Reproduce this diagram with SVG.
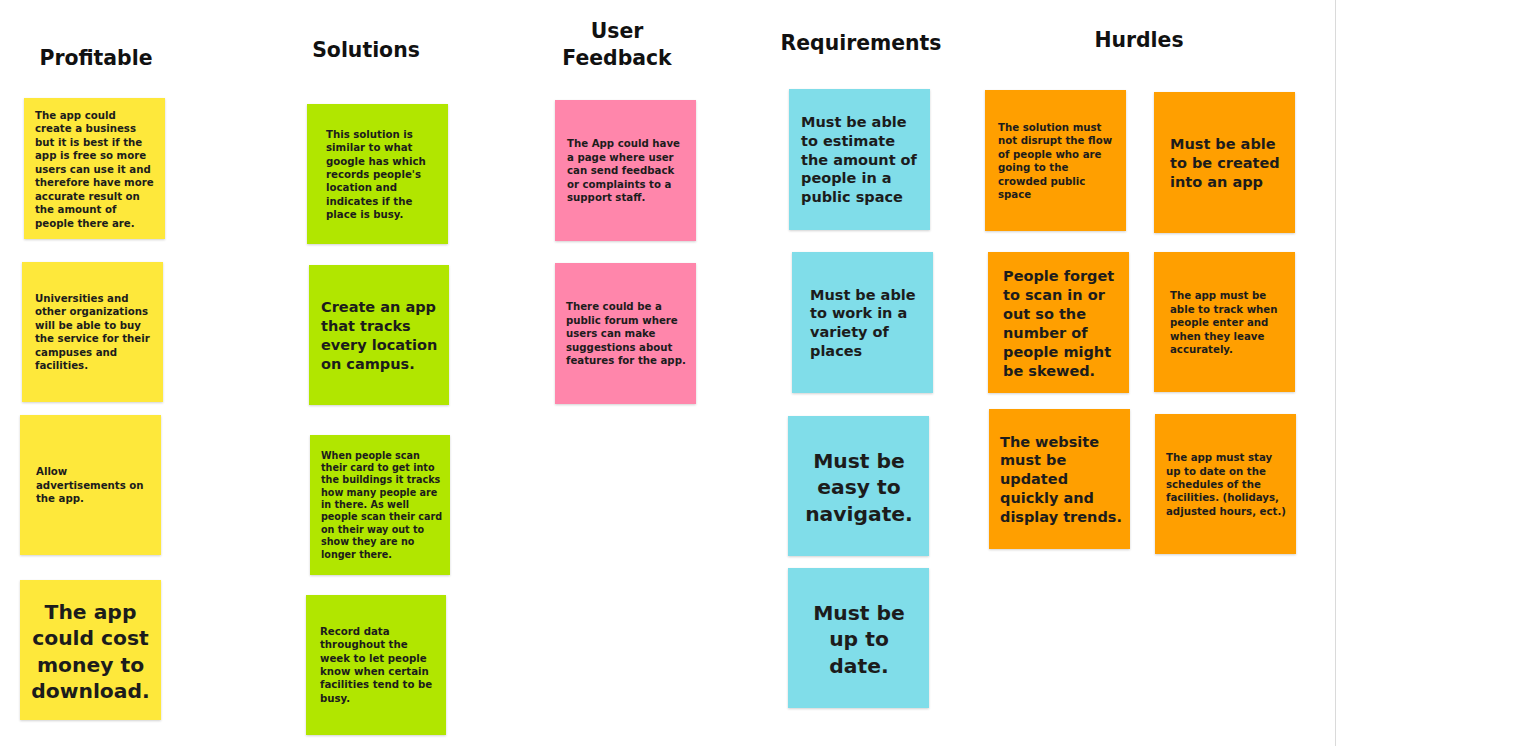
<svg xmlns="http://www.w3.org/2000/svg" width="1538" height="746" viewBox="0 0 1538 746">
<defs>
<filter id="sh" x="-5%" y="-5%" width="110%" height="115%">
<feDropShadow dx="0" dy="1" stdDeviation="1" flood-color="#000" flood-opacity="0.18"/>
</filter>
</defs>
<style>
.hd{font-family:"DejaVu Sans","Liberation Sans",sans-serif;font-weight:700;font-size:20.4px;fill:#111;text-anchor:middle}
.t{font-family:"DejaVu Sans","Liberation Sans",sans-serif;font-weight:700;fill:#1c1c1c}
.s{font-size:10.2px}
.xs{font-size:9.6px}
.m{font-size:14.5px}
.l{font-size:20.3px;text-anchor:middle}
.note{filter:url(#sh)}
.y{fill:#fee83b}
.g{fill:#b1e600}
.p{fill:#ff86ab}
.c{fill:#80dde9}
.o{fill:#ff9f05}
</style>
<rect x="0" y="0" width="1538" height="746" fill="#ffffff"/>
<line x1="1335.5" y1="0" x2="1335.5" y2="746" stroke="#dadada" stroke-width="1"/>

<g id="headers">
<text class="hd" x="96" y="65">Profitable</text>
<text class="hd" x="366" y="57">Solutions</text>
<text class="hd" x="617" y="38">User</text>
<text class="hd" x="617" y="65">Feedback</text>
<text class="hd" x="861" y="50">Requirements</text>
<text class="hd" x="1139" y="47">Hurdles</text>
</g>

<g id="connectors"></g>

<g id="p1"><rect class="note y" x="24" y="98" width="141" height="141"/>
<text class="t s" x="35" y="119"><tspan x="35">The app could</tspan><tspan x="35" dy="13.45">create a business</tspan><tspan x="35" dy="13.45">but it is best if the</tspan><tspan x="35" dy="13.45">app is free so more</tspan><tspan x="35" dy="13.45">users can use it and</tspan><tspan x="35" dy="13.45">therefore have more</tspan><tspan x="35" dy="13.45">accurate result on</tspan><tspan x="35" dy="13.45">the amount of</tspan><tspan x="35" dy="13.45">people there are.</tspan></text></g>

<g id="p2"><rect class="note y" x="22" y="262" width="141" height="140"/>
<text class="t s" x="35" y="301.7"><tspan x="35">Universities and</tspan><tspan x="35" dy="13.45">other organizations</tspan><tspan x="35" dy="13.45">will be able to buy</tspan><tspan x="35" dy="13.45">the service for their</tspan><tspan x="35" dy="13.45">campuses and</tspan><tspan x="35" dy="13.45">facilities.</tspan></text></g>

<g id="p3"><rect class="note y" x="20" y="415" width="141" height="140"/>
<text class="t s" x="36" y="475"><tspan x="36">Allow</tspan><tspan x="36" dy="13.5">advertisements on</tspan><tspan x="36" dy="13.5">the app.</tspan></text></g>

<g id="p4"><rect class="note y" x="20" y="580" width="141" height="140"/>
<text class="t l" x="90.5" y="618.5"><tspan x="90.5">The app</tspan><tspan x="90.5" dy="26.5">could cost</tspan><tspan x="90.5" dy="26.5">money to</tspan><tspan x="90.5" dy="26.5">download.</tspan></text></g>

<g id="s1"><rect class="note g" x="307" y="104" width="141" height="140"/>
<text class="t s" x="326" y="137.7"><tspan x="326">This solution is</tspan><tspan x="326" dy="13.4">similar to what</tspan><tspan x="326" dy="13.4">google has which</tspan><tspan x="326" dy="13.4">records people's</tspan><tspan x="326" dy="13.4">location and</tspan><tspan x="326" dy="13.4">indicates if the</tspan><tspan x="326" dy="13.4">place is busy.</tspan></text></g>

<g id="s2"><rect class="note g" x="309" y="265" width="140" height="140"/>
<text class="t m" x="321" y="312.2"><tspan x="321">Create an app</tspan><tspan x="321" dy="19">that tracks</tspan><tspan x="321" dy="19">every location</tspan><tspan x="321" dy="19">on campus.</tspan></text></g>

<g id="s3"><rect class="note g" x="310" y="435" width="140" height="140"/>
<text class="t xs" x="321" y="458.7"><tspan x="321">When people scan</tspan><tspan x="321" dy="12.35">their card to get into</tspan><tspan x="321" dy="12.35">the buildings it tracks</tspan><tspan x="321" dy="12.35">how many people are</tspan><tspan x="321" dy="12.35">in there. As well</tspan><tspan x="321" dy="12.35">people scan their card</tspan><tspan x="321" dy="12.35">on their way out to</tspan><tspan x="321" dy="12.35">show they are no</tspan><tspan x="321" dy="12.35">longer there.</tspan></text></g>

<g id="s4"><rect class="note g" x="306" y="595" width="140" height="140"/>
<text class="t s" x="320" y="635"><tspan x="320">Record data</tspan><tspan x="320" dy="13.35">throughout the</tspan><tspan x="320" dy="13.35">week to let people</tspan><tspan x="320" dy="13.35">know when certain</tspan><tspan x="320" dy="13.35">facilities tend to be</tspan><tspan x="320" dy="13.35">busy.</tspan></text></g>

<g id="u1"><rect class="note p" x="555" y="100" width="141" height="141"/>
<text class="t s" x="567" y="147"><tspan x="567">The App could have</tspan><tspan x="567" dy="13.5">a page where user</tspan><tspan x="567" dy="13.5">can send feedback</tspan><tspan x="567" dy="13.5">or complaints to a</tspan><tspan x="567" dy="13.5">support staff.</tspan></text></g>

<g id="u2"><rect class="note p" x="555" y="263" width="141" height="141"/>
<text class="t s" x="566" y="310"><tspan x="566">There could be a</tspan><tspan x="566" dy="13.5">public forum where</tspan><tspan x="566" dy="13.5">users can make</tspan><tspan x="566" dy="13.5">suggestions about</tspan><tspan x="566" dy="13.5">features for the app.</tspan></text></g>

<g id="r1"><rect class="note c" x="789" y="89" width="141" height="141"/>
<text class="t m" x="801" y="127.2"><tspan x="801">Must be able</tspan><tspan x="801" dy="18.75">to estimate</tspan><tspan x="801" dy="18.75">the amount of</tspan><tspan x="801" dy="18.75">people in a</tspan><tspan x="801" dy="18.75">public space</tspan></text></g>

<g id="r2"><rect class="note c" x="792" y="252" width="141" height="141"/>
<text class="t m" x="810" y="299.5"><tspan x="810">Must be able</tspan><tspan x="810" dy="18.7">to work in a</tspan><tspan x="810" dy="18.7">variety of</tspan><tspan x="810" dy="18.7">places</tspan></text></g>

<g id="r3"><rect class="note c" x="788" y="416" width="141" height="140"/>
<text class="t l" x="859" y="467.5"><tspan x="859">Must be</tspan><tspan x="859" dy="26.5">easy to</tspan><tspan x="859" dy="26.5">navigate.</tspan></text></g>

<g id="r4"><rect class="note c" x="788" y="568" width="141" height="140"/>
<text class="t l" x="859" y="619.5"><tspan x="859">Must be</tspan><tspan x="859" dy="26.5">up to</tspan><tspan x="859" dy="26.5">date.</tspan></text></g>

<g id="h1"><rect class="note o" x="985" y="90" width="141" height="141"/>
<text class="t s" x="998" y="130.7"><tspan x="998">The solution must</tspan><tspan x="998" dy="13.5">not disrupt the flow</tspan><tspan x="998" dy="13.5">of people who are</tspan><tspan x="998" dy="13.5">going to the</tspan><tspan x="998" dy="13.5">crowded public</tspan><tspan x="998" dy="13.5">space</tspan></text></g>

<g id="h2"><rect class="note o" x="1154" y="92" width="141" height="141"/>
<text class="t m" x="1170" y="148.8"><tspan x="1170">Must be able</tspan><tspan x="1170" dy="19.2">to be created</tspan><tspan x="1170" dy="19.2">into an app</tspan></text></g>

<g id="h3"><rect class="note o" x="988" y="252" width="141" height="141"/>
<text class="t m" x="1003" y="281.2"><tspan x="1003">People forget</tspan><tspan x="1003" dy="19">to scan in or</tspan><tspan x="1003" dy="19">out so the</tspan><tspan x="1003" dy="19">number of</tspan><tspan x="1003" dy="19">people might</tspan><tspan x="1003" dy="19">be skewed.</tspan></text></g>

<g id="h4"><rect class="note o" x="1154" y="252" width="141" height="140"/>
<text class="t s" x="1170" y="299"><tspan x="1170">The app must be</tspan><tspan x="1170" dy="13.5">able to track when</tspan><tspan x="1170" dy="13.5">people enter and</tspan><tspan x="1170" dy="13.5">when they leave</tspan><tspan x="1170" dy="13.5">accurately.</tspan></text></g>

<g id="h5"><rect class="note o" x="989" y="409" width="141" height="140"/>
<text class="t m" x="1000" y="446.5"><tspan x="1000">The website</tspan><tspan x="1000" dy="18.9">must be</tspan><tspan x="1000" dy="18.9">updated</tspan><tspan x="1000" dy="18.9">quickly and</tspan><tspan x="1000" dy="18.9">display trends.</tspan></text></g>

<g id="h6"><rect class="note o" x="1155" y="414" width="141" height="140"/>
<text class="t s" x="1166" y="461.3"><tspan x="1166">The app must stay</tspan><tspan x="1166" dy="13.35">up to date on the</tspan><tspan x="1166" dy="13.35">schedules of the</tspan><tspan x="1166" dy="13.35">facilities. (holidays,</tspan><tspan x="1166" dy="13.35">adjusted hours, ect.)</tspan></text></g>
</svg>
